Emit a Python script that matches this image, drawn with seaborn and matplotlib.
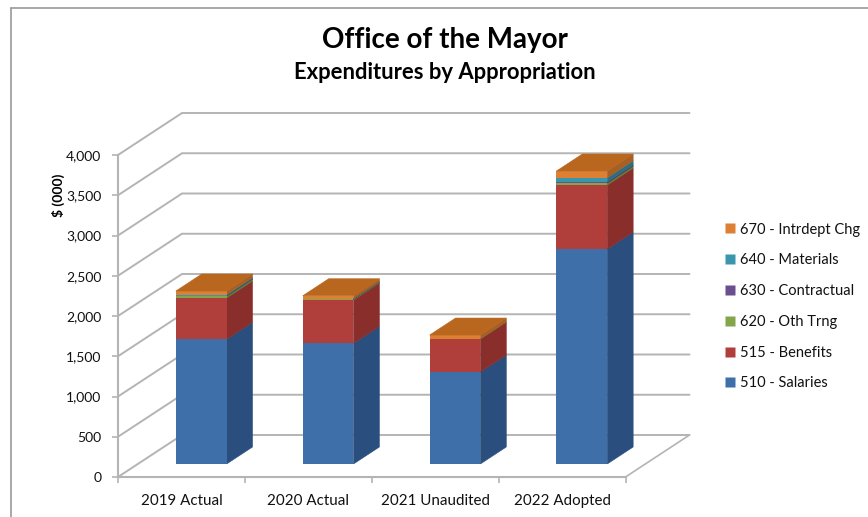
import numpy as np
import pandas as pd
import seaborn as sns
import matplotlib
matplotlib.use("Agg")
import matplotlib.pyplot as plt
from matplotlib.lines import Line2D

categories = ["2019 Actual", "2020 Actual", "2021 Unaudited", "2022 Adopted"]
series_names = ["510 - Salaries", "515 - Benefits", "620 - Oth Trng",
                "630 - Contractual", "640 - Materials", "670 - Intrdept Chg"]
salaries = [1550, 1500, 1143, 2670]
benefits = [512, 537, 410, 795]
oth_trng = [25, 10, 3, 25]
contractual = [5, 3, 0, 15]
materials = [12, 5, 0, 50]
intrdept = [45, 35, 46, 85]
y_ticks = [0, 500, 1000, 1500, 2000, 2500, 3000, 3500, 4000]
y_tick_labels = ["0", "500", "1,000", "1,500", "2,000", "2,500", "3,000", "3,500", "4,000"]

colors = ["#3F6FA8", "#B03F3C", "#84A549", "#6B4E8F", "#3A96AE", "#DD8033"]
side_colors = ["#2A4F7E", "#8A2E2C", "#5F7A34", "#4C3768", "#2A6F82", "#A85F24"]
top_color = "#B9661F"
grid_color = "#B4B4B4"
border_color = "#999999"

W, H = 868, 517
sns.set_theme(style="white")
plt.rcParams["font.family"] = ["Lato", "DejaVu Sans"]
fig = plt.figure(figsize=(W / 100, H / 100), dpi=100, facecolor="white")

# pixel geometry of the pseudo 3-D box
left, right, y0_px, y4k_px = 118.0, 625.5, 477.0, 155.0
wall_dx, wall_dy = 64.0, 42.0        # floor depth
bar_front = 13.0 / 42.0              # depth fraction of the bar's front face
bar_depth = 17.0 / 42.0              # depth fraction taken up by the bar


def axes_rect(shift):
    return [(left + wall_dx * shift) / W,
            1 - (y0_px - wall_dy * shift) / H,
            (right - left) / W,
            (y0_px - y4k_px) / H]


# frame axes: ticks, category labels, walls and gridlines
frame = fig.add_axes(axes_rect(0))
frame.set_xlim(-0.5, 3.5)
frame.set_ylim(0, 4000)
frame.patch.set_alpha(0)
px_x = 4.0 / (right - left)
px_y = 4000.0 / (y0_px - y4k_px)
dx_wall, dy_wall = wall_dx * px_x, wall_dy * px_y
for v in y_ticks:
    frame.plot([-0.5, -0.5 + dx_wall, 3.5 + dx_wall], [v, v + dy_wall, v + dy_wall],
               color=grid_color, lw=1.4, clip_on=False, zorder=1, solid_joinstyle="miter")
frame.plot([3.5, 3.5 + dx_wall], [0, dy_wall], color=grid_color, lw=1.2, clip_on=False, zorder=1)
sns.despine(ax=frame)
for s in ("left", "bottom"):
    frame.spines[s].set_color(grid_color)
    frame.spines[s].set_linewidth(1.5)
frame.set_yticks(y_ticks)
frame.set_yticklabels(y_tick_labels, fontsize=10, color="#111111")
frame.set_xticks([-0.5, 0.5, 1.5, 2.5, 3.5])
frame.set_xticklabels([])
frame.set_xticks([0, 1, 2, 3], minor=True)
frame.set_xticklabels(categories, minor=True, fontsize=10.9, color="#111111")
frame.tick_params(axis="x", which="major", length=4, width=1.2, color=grid_color, bottom=True)
frame.tick_params(axis="x", which="minor", length=0, pad=12, bottom=False)
frame.tick_params(axis="y", length=4, width=1.2, color=grid_color, left=True, pad=8)
frame.set_ylabel("$ (000)", fontsize=10, fontweight="bold", color="#000000")
frame.yaxis.set_label_coords(-0.105, 0.875)

# bar axes: same scales, shifted back to the plane of the bars' front faces
ax = fig.add_axes(axes_rect(bar_front))
ax.patch.set_alpha(0)
series = [salaries, benefits, oth_trng, contractual, materials, intrdept]
df = pd.DataFrame(dict(zip(series_names, series)), index=categories)
bottoms = np.zeros(len(categories))
bar_w = 0.4
ddx, ddy = wall_dx * bar_depth * px_x, wall_dy * bar_depth * px_y
for i, name in enumerate(series_names):
    vals = df[name].to_numpy(dtype=float)
    sns.barplot(x=categories, y=vals, bottom=bottoms, ax=ax, color=colors[i],
                width=bar_w, saturation=1, linewidth=0, zorder=5)
    for j, (b, v) in enumerate(zip(bottoms, vals)):
        if v <= 0:
            continue
        xr = j + bar_w / 2
        ax.fill([xr, xr + ddx, xr + ddx, xr], [b, b + ddy, b + v + ddy, b + v],
                facecolor=side_colors[i], edgecolor=side_colors[i], lw=0.4, zorder=4)
    bottoms = bottoms + vals
for j, t in enumerate(bottoms):
    xl, xr = j - bar_w / 2, j + bar_w / 2
    ax.fill([xl, xr, xr + ddx, xl + ddx], [t, t, t + ddy, t + ddy],
            facecolor=top_color, edgecolor=top_color, lw=0.4, zorder=6)
ax.set_xlim(-0.5, 3.5)
ax.set_ylim(0, 4000)
ax.set_axis_off()

fig.text(445 / W, 1 - 40 / H, "Office of the Mayor", ha="center", va="center",
         fontsize=20, fontweight="bold", color="#000000")
fig.text(445 / W, 1 - 73 / H, "Expenditures by Appropriation", ha="center", va="center",
         fontsize=15.8, fontweight="bold", color="#000000")

handles = [Line2D([], [], ls="", marker="s", ms=7.5, mfc=colors[i], mec="none", label=series_names[i])
           for i in range(len(series_names))][::-1]
fig.legend(handles=handles, loc="center left", bbox_to_anchor=(714 / W, 1 - 306.5 / H), frameon=False,
           fontsize=10.5, labelspacing=1.15, handletextpad=0.1, handlelength=1.2, borderpad=0,
           labelcolor="#111111")

# chart border
fig.add_artist(Line2D([10.5 / W, 10.5 / W], [0, 1 - 7.5 / H], color=border_color, lw=1.2))
fig.add_artist(Line2D([10.5 / W, 1], [1 - 7.5 / H, 1 - 7.5 / H], color=border_color, lw=1.2))
fig.savefig("out.png", dpi=100)
